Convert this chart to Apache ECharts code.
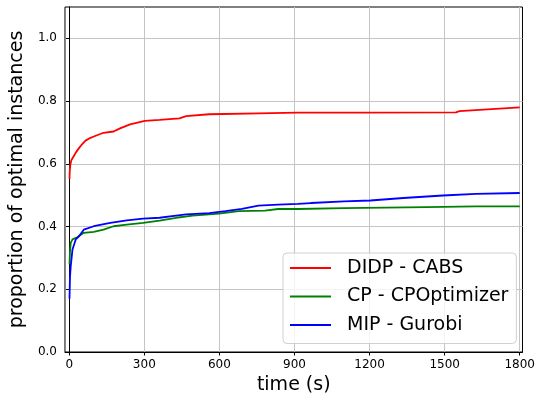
<!DOCTYPE html>
<html>
<head>
<meta charset="utf-8">
<script src="https://cdn.jsdelivr.net/npm/echarts@6/dist/echarts.min.js"></script>
<style>html,body{margin:0;padding:0;background:#fff;}#c{width:538px;height:400px;}</style>
</head>
<body>
<div id="c"></div>
<script>
var xTicks = [0, 300, 600, 900, 1200, 1500, 1800];
var yTicks = [0, 0.2, 0.4, 0.6, 0.8, 1.0];
var seriesNames = ['DIDP - CABS', 'CP - CPOptimizer', 'MIP - Gurobi'];

var didpT = [1, 2, 4, 8, 13, 19, 28, 39, 52, 65, 80, 98, 137, 177, 203, 243, 302, 361, 440, 467, 559, 756, 914, 1151, 1545, 1559, 1800];
var didpV = [0.552, 0.575, 0.595, 0.610, 0.618, 0.626, 0.638, 0.650, 0.663, 0.674, 0.681, 0.687, 0.699, 0.703, 0.713, 0.726, 0.737, 0.740, 0.745, 0.752, 0.758, 0.761, 0.763, 0.763, 0.764, 0.768, 0.780];

var cpT = [1, 3, 6, 13, 32, 58, 98, 137, 177, 230, 295, 361, 427, 493, 598, 677, 782, 835, 914, 1098, 1427, 1625, 1800];
var cpV = [0.280, 0.320, 0.348, 0.359, 0.366, 0.380, 0.383, 0.390, 0.401, 0.406, 0.412, 0.419, 0.428, 0.435, 0.441, 0.449, 0.451, 0.456, 0.456, 0.459, 0.462, 0.464, 0.464];

var mipT = [1, 3, 6, 13, 26, 39, 58, 98, 164, 230, 295, 361, 427, 467, 559, 624, 690, 756, 835, 914, 966, 1098, 1203, 1335, 1493, 1625, 1800];
var mipV = [0.170, 0.240, 0.274, 0.327, 0.359, 0.369, 0.390, 0.401, 0.412, 0.420, 0.425, 0.428, 0.435, 0.439, 0.443, 0.449, 0.456, 0.467, 0.470, 0.472, 0.475, 0.480, 0.483, 0.491, 0.499, 0.504, 0.507];

function zip(t, v) { return t.map(function (x, i) { return [x, v[i]]; }); }

var font = 'DejaVu Sans';
var chart = echarts.init(document.getElementById('c'));
chart.setOption({
  animation: false,
  backgroundColor: '#fff',
  grid: { left: 64, right: 11, top: 7, bottom: 47, show: true, borderColor: '#000', borderWidth: 1, backgroundColor: 'transparent' },
  xAxis: {
    type: 'value', min: -17, max: 1811,
    name: 'time (s)', nameLocation: 'middle', nameGap: 24,
    nameTextStyle: { fontFamily: font, fontSize: 19, color: '#000' },
    axisLine: { show: true, lineStyle: { color: '#000', width: 1 } },
    axisTick: { show: true, inside: false, length: 3.5, customValues: xTicks, lineStyle: { color: '#000' } },
    axisLabel: { customValues: xTicks, margin: 7, fontFamily: font, fontSize: 12, color: '#000',
      formatter: function (v) { return String(Math.round(v)); } },
    splitLine: { show: true, lineStyle: { color: '#c4c4c4', width: 1 } }
  },
  yAxis: {
    type: 'value', min: 0, max: 1.1,
    name: 'proportion of optimal instances', nameLocation: 'middle', nameGap: 33,
    nameTextStyle: { fontFamily: font, fontSize: 19, color: '#000' },
    axisLine: { show: true, lineStyle: { color: '#000', width: 1 } },
    axisTick: { show: true, inside: false, length: 3.5, customValues: yTicks, lineStyle: { color: '#000' } },
    axisLabel: { customValues: yTicks, margin: 8, fontFamily: font, fontSize: 12, color: '#000',
      formatter: function (v) { return v.toFixed(1); } },
    splitLine: { show: true, lineStyle: { color: '#c4c4c4', width: 1 } }
  },
  legend: {
    left: 283, top: 253, orient: 'vertical',
    data: seriesNames.map(function (n) { return { name: n, icon: 'rect' }; }),
    itemWidth: 41, itemHeight: 2, itemGap: 9.5,
    padding: [5.5, 8, 9, 7],
    backgroundColor: 'rgba(255,255,255,0.8)', borderColor: '#d0d0d0', borderWidth: 1, borderRadius: 4,
    textStyle: { fontFamily: font, fontSize: 19, lineHeight: 19, color: '#000', padding: [0, 0, 0, 11] }
  },
  series: [
    { name: seriesNames[0], type: 'line', data: zip(didpT, didpV), showSymbol: false, symbol: 'none', lineStyle: { color: '#ff0000', width: 1.8 }, itemStyle: { color: '#ff0000' } },
    { name: seriesNames[1], type: 'line', data: zip(cpT, cpV), showSymbol: false, symbol: 'none', lineStyle: { color: '#008000', width: 1.8 }, itemStyle: { color: '#008000' } },
    { name: seriesNames[2], type: 'line', data: zip(mipT, mipV), showSymbol: false, symbol: 'none', lineStyle: { color: '#0000ff', width: 1.8 }, itemStyle: { color: '#0000ff' } }
  ]
});
</script>
</body>
</html>
